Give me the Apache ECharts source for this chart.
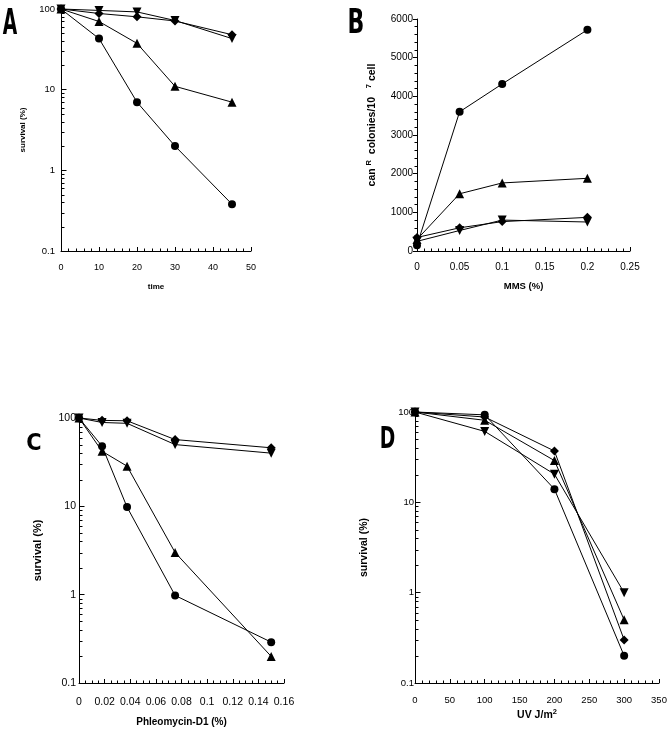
<!DOCTYPE html>
<html><head><meta charset="utf-8">
<script src="https://cdn.jsdelivr.net/npm/echarts@6/dist/echarts.min.js"></script>
<style>html,body{margin:0;padding:0;background:#fff}#c{width:672px;height:730px}</style>
</head><body><div id="c"></div>
<script>
// Panel A: survival vs time
const aTime = [0, 10, 20, 30, 45];
const aCircle = [100, 43, 7, 2, 0.38];
const aTriangle = [100, 70, 37.5, 11, 7];
const aDiamond = [100, 88, 80, 71, 48];
const aDownTri = [100, 96, 92, 72, 43];
// Panel B: canR colonies vs MMS
const bMMS = [0, 0.05, 0.1, 0.2];
const bCircle = [150, 3600, 4320, 5720];
const bTriangle = [300, 1480, 1760, 1880];
const bDiamond = [350, 600, 760, 870];
const bDownTri = [250, 530, 800, 750];
// Panel C: survival vs Phleomycin-D1
const cDose = [0, 0.018, 0.0375, 0.075, 0.15];
const cCircle = [100, 48, 9.8, 0.98, 0.29];
const cTriangle = [100, 42, 28.5, 3, 0.2];
const cDiamond = [100, 94, 93, 57, 46];
const cDownTri = [100, 89, 87, 50, 40];
// Panel D: survival vs UV
const dUV = [0, 100, 200, 300];
const dCircle = [100, 93, 14, 0.2];
const dTriangle = [100, 81, 29, 0.5];
const dDiamond = [100, 88, 37, 0.3];
const dDownTri = [100, 61, 20.5, 1.0];
// log-axis minor tick values
const logMinorVals = [0.2,0.3,0.4,0.5,0.6,0.7,0.8,0.9,2,3,4,5,6,7,8,9,20,30,40,50,60,70,80,90];

const FONT = '"Liberation Sans", Arial, sans-serif';
const pair = (xs, ys) => xs.map((x, i) => [x, ys[i]]);
const markers = [
  {symbol: 'circle', size: 8, rot: 0},
  {symbol: 'triangle', size: 9, rot: 0},
  {symbol: 'diamond', size: 9, rot: 0},
  {symbol: 'triangle', size: 9, rot: 180}
];
function lineSeries(idx, xs, ys, m) {
  return {
    type: 'line', xAxisIndex: idx, yAxisIndex: idx, data: pair(xs, ys),
    symbol: m.symbol, symbolSize: m.size, symbolRotate: m.rot, showSymbol: true,
    lineStyle: {color: '#000', width: 1}, itemStyle: {color: '#000'},
    animation: false, clip: false, z: 3
  };
}
function minorSeries(idx) {
  return {
    type: 'custom', xAxisIndex: idx, yAxisIndex: idx, silent: true, clip: false, animation: false,
    encode: {x: 0, y: 1},
    data: logMinorVals.map(v => [0, v]),
    renderItem: (params, api) => {
      const p = api.coord([api.value(0), api.value(1)]);
      const y = Math.round(p[1]) + 0.5;
      const x = Math.round(p[0]);
      return {type: 'line', shape: {x1: x, y1: y, x2: x + 3.5, y2: y}, style: {stroke: '#000', lineWidth: 1}};
    }
  };
}
function xAxis(idx, max, interval, minorSplit, fs, name, nameGap, nameFs, labelMargin, nameRich) {
  return {
    type: 'value', gridIndex: idx, min: 0, max: max, interval: interval,
    axisLine: {show: true, onZero: false, lineStyle: {color: '#000', width: 1}},
    axisTick: {show: true, inside: true, length: 4, lineStyle: {color: '#000'}},
    minorTick: {show: true, splitNumber: minorSplit, length: 2.5, lineStyle: {color: '#000'}},
    splitLine: {show: false},
    axisLabel: {color: '#000', fontSize: fs, fontFamily: FONT, margin: labelMargin},
    name: name, nameLocation: 'middle', nameGap: nameGap,
    nameTextStyle: {color: '#000', fontSize: nameFs, fontWeight: 'bold', fontFamily: FONT, rich: nameRich}
  };
}
function yLogAxis(idx, fs, name, nameGap, nameFs, labelMargin) {
  return {
    type: 'log', logBase: 10, gridIndex: idx, min: 0.1, max: 100,
    axisLine: {show: true, onZero: false, lineStyle: {color: '#000', width: 1}},
    axisTick: {show: true, inside: true, length: 5.5, lineStyle: {color: '#000'}},
    splitLine: {show: false},
    axisLabel: {color: '#000', fontSize: fs, fontFamily: FONT, margin: labelMargin},
    name: name, nameLocation: 'middle', nameGap: nameGap,
    nameTextStyle: {color: '#000', fontSize: nameFs, fontWeight: 'bold', fontFamily: FONT}
  };
}

const chart = echarts.init(document.getElementById('c'), null, {renderer: 'canvas'});
const series = [];
const panels = [
  {xs: aTime, ys: [aCircle, aTriangle, aDiamond, aDownTri]},
  {xs: bMMS, ys: [bCircle, bTriangle, bDiamond, bDownTri]},
  {xs: cDose, ys: [cCircle, cTriangle, cDiamond, cDownTri]},
  {xs: dUV, ys: [dCircle, dTriangle, dDiamond, dDownTri]}
];
panels.forEach((p, i) => {
  p.ys.forEach((ys, k) => series.push(lineSeries(i, p.xs, ys, markers[k])));
});
[0, 2, 3].forEach(i => series.push(minorSeries(i)));

const supRich = {
  b: {fontSize: 10.5, fontWeight: 'bold', fontFamily: FONT, color: '#000', lineHeight: 15},
  s: {fontSize: 7.5, fontWeight: 'bold', fontFamily: FONT, color: '#000', verticalAlign: 'top', lineHeight: 15}
};

function letter(t, cx, cy, sx, sy) {
  return {
    type: 'text', x: cx, y: cy, scaleX: sx, scaleY: sy, z: 10,
    style: {text: t, fill: '#000', font: 'bold 22px "DejaVu Sans", sans-serif', align: 'center', verticalAlign: 'middle'}
  };
}

chart.setOption({
  animation: false,
  backgroundColor: '#fff',
  grid: [
    {left: 61, top: 9, width: 190, height: 242},
    {left: 417, top: 19, width: 213, height: 232},
    {left: 79, top: 418, width: 205, height: 265},
    {left: 415, top: 412, width: 244, height: 271}
  ],
  xAxis: [
    xAxis(0, 50, 10, 5, 9, 'time', 32, 8, 12),
    xAxis(1, 0.25, 0.05, 6, 10, 'MMS (%)', 30, 9.5, 11),
    xAxis(2, 0.16, 0.02, 4, 10.5, 'Phleomycin-D1 (%)', 34, 10, 14),
    xAxis(3, 350, 50, 5, 9.5, '{b|UV J/m}{s|2}', 25, 10, 12, supRich)
  ],
  yAxis: [
    yLogAxis(0, 9.5, 'survival (%)', 34, 8, 6),
    {
      type: 'value', gridIndex: 1, min: 0, max: 6000, interval: 1000,
      axisLine: {show: true, onZero: false, lineStyle: {color: '#000', width: 1}},
      axisTick: {show: true, inside: false, length: 4, lineStyle: {color: '#000'}},
      minorTick: {show: true, splitNumber: 5, length: 2.5, lineStyle: {color: '#000'}},
      splitLine: {show: false},
      axisLabel: {color: '#000', fontSize: 10, fontFamily: FONT, margin: 4, formatter: v => String(v)},
      name: '{b|can }{s|R}{b|  colonies/10   }{s|7}{b| cell}', nameLocation: 'middle', nameGap: 37,
      nameTextStyle: {color: '#000', fontSize: 10.5, fontWeight: 'bold', fontFamily: FONT, rich: supRich, padding: [0, 0, 0, 20]}
    },
    yLogAxis(2, 10.5, 'survival (%)', 36, 11, 3),
    yLogAxis(3, 9.5, 'survival (%)', 45, 10.5, 1)
  ],
  series: series,
  graphic: [
    letter('A', 10, 25, 0.85, 1.6),
    letter('B', 356, 24, 1.0, 1.55),
    letter('C', 34, 443.5, 0.95, 1.05),
    letter('D', 387.5, 439.5, 0.85, 1.4)
  ]
});
</script></body></html>
